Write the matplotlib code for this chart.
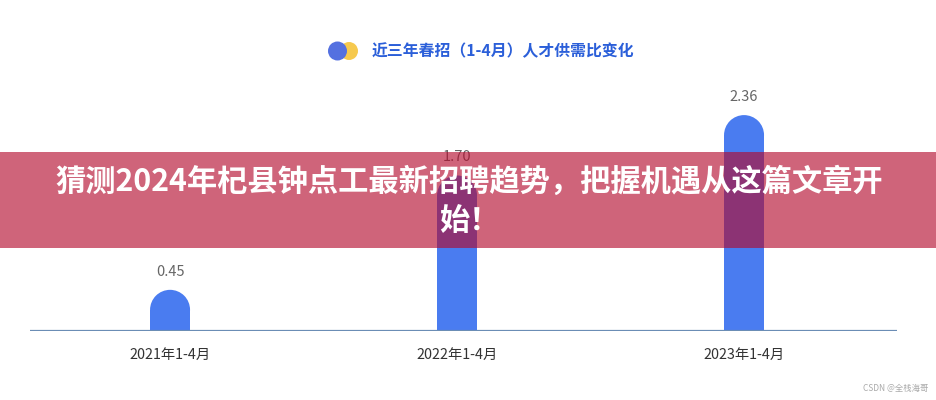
import matplotlib
matplotlib.use('Agg')
import matplotlib.pyplot as plt
from matplotlib.patches import Rectangle, Ellipse

plt.rcParams['font.family'] = ['Noto Sans CJK SC', 'DejaVu Sans']

# data
periods = ['2021年1-4月', '2022年1-4月', '2023年1-4月']
ratios = [0.45, 1.70, 2.36]
value_labels = ['0.45', '1.70', '2.36']
chart_title = '近三年春招（1-4月）人才供需比变化'
banner_lines = ['猜测2024年杞县钟点工最新招聘趋势，把握机遇从这篇文章开', '始！']
watermark = 'CSDN @全栈海哥'

W, H = 937, 400
fig = plt.figure(figsize=(W / 100, H / 100), dpi=100)
fig.patch.set_facecolor('white')

ax = fig.add_axes([30 / W, 1 - 331 / H, 867 / W, 231 / H])
xs = list(range(len(periods)))
ax.set_xlim(-0.488, 2.533)
ax.set_ylim(0, 2.525)
for s in ax.spines.values():
    s.set_visible(False)
ax.set_yticks([])
ax.set_xticks(xs)
ax.set_xticklabels(periods, fontsize=10.3, color='#333333')
ax.tick_params(axis='x', length=0, pad=12)

# bars with rounded tops
bar_color = '#4a7cf0'
ax_w_px = 867
ax_h_px = 231
bw = 40 / (ax_w_px / (2.533 + 0.488))
r = 20 / (ax_h_px / 2.525)
for x, v, lab in zip(xs, ratios, value_labels):
    ax.bar(x, v - r, width=bw, color=bar_color, lw=0, zorder=2)
    ax.add_patch(Ellipse((x, v - r), bw, 2 * r, facecolor=bar_color, lw=0, zorder=2))
    ax.text(x, v + 0.2, lab, ha='center', va='center', fontsize=10.5, color='#666666')
ax.axhline(0, color='#6b8db5', lw=1.6, zorder=3)

# title with circles
fig.patches.append(Ellipse((349 / W, 1 - 51 / H), 18 / W, 18 / H, facecolor='#f6c94e',
                           lw=0, transform=fig.transFigure))
fig.patches.append(Ellipse((337.5 / W, 1 - 51 / H), 19 / W, 19 / H, facecolor='#5470e0',
                           lw=0, transform=fig.transFigure))
fig.text(503 / W, 1 - 51 / H, chart_title, ha='center', va='center', fontsize=11.4,
         fontweight='bold', color='#2b5fd9')

# banner overlay
fig.patches.append(Rectangle((0, 1 - 248 / H), 1, 96 / H, facecolor='#b4092c', alpha=0.63,
                             lw=0, transform=fig.transFigure, zorder=5))
fig.text(469 / W, 1 - 182 / H, banner_lines[0], ha='center', va='center', fontsize=21.8,
         fontweight='heavy', color='white', zorder=6)
fig.text(469 / W, 1 - 221 / H, banner_lines[1], ha='center', va='center', fontsize=21.8,
         fontweight='heavy', color='white', zorder=6)

fig.text(928 / W, 1 - 388 / H, watermark, ha='right', va='center', fontsize=6,
         color='#aaaaaa')

fig.savefig('out.png', dpi=100)
